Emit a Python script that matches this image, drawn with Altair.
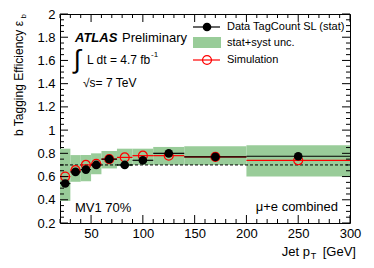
import altair as alt
import pandas as pd

# ---------------- data ----------------
bin_lo = [20, 30, 40, 50, 60, 75, 90, 110, 140, 200]
bin_hi = [30, 40, 50, 60, 75, 90, 110, 140, 200, 300]
bin_center = [25, 35, 45, 55, 67.5, 82.5, 100, 125, 170, 250]
data_eff = [0.54, 0.64, 0.66, 0.70, 0.75, 0.70, 0.74, 0.80, 0.77, 0.775]
data_stat = [0.02, 0.01, 0.01, 0.01, 0.01, 0.01, 0.01, 0.01, 0.015, 0.025]
sim_eff = [0.60, 0.655, 0.70, 0.71, 0.75, 0.765, 0.78, 0.78, 0.77, 0.74]
band_lo = [0.39, 0.555, 0.56, 0.62, 0.67, 0.69, 0.70, 0.70, 0.70, 0.60]
band_hi = [0.84, 0.785, 0.785, 0.80, 0.82, 0.84, 0.84, 0.855, 0.86, 0.87]
ref_line = [0.7]

x_labels = [50, 100, 150, 200, 250, 300]
x_minor = [v for v in range(20, 301, 10) if v % 50 != 0]
y_labels = [0.2, 0.4, 0.6, 0.8, 1.0, 1.2, 1.4, 1.6, 1.8, 2.0]
y_minor = [round(0.2 + 0.05 * i, 2) for i in range(37) if i % 4 != 0]

FONT = "Liberation Sans"
W, H = 290, 209

df = pd.DataFrame({
    "lo": bin_lo, "hi": bin_hi, "c": bin_center,
    "d": data_eff,
    "dlo": [a - b for a, b in zip(data_eff, data_stat)],
    "dhi": [a + b for a, b in zip(data_eff, data_stat)],
    "s": sim_eff, "blo": band_lo, "bhi": band_hi,
})

xs = alt.Scale(domain=[20, 300], nice=False, zero=False)
ys = alt.Scale(domain=[0.2, 2.0], nice=False, zero=False)

x_axis = alt.Axis(values=x_labels, ticks=False, tickSize=0, domain=False, grid=False,
                  labelFont=FONT, labelFontSize=13, labelColor="black",
                  labelPadding=4, labelFlush=False, title=None)
y_axis = alt.Axis(values=y_labels, format="~g", ticks=False, tickSize=0, domain=False,
                  grid=False, labelFont=FONT, labelFontSize=13, labelColor="black",
                  labelPadding=5, labelFlush=False, title=None)


def X(f):
    return alt.X(f, scale=xs, axis=x_axis)


def Y(f):
    return alt.Y(f, scale=ys, axis=y_axis)


band = alt.Chart(df).mark_rect(color="#99cc99").encode(
    x=X("lo:Q"), x2="hi:Q", y=Y("blo:Q"), y2="bhi:Q",
)

dashed = alt.Chart(pd.DataFrame({"y": ref_line})).mark_rule(
    color="black", strokeDash=[3, 2], strokeWidth=1
).encode(y=Y("y:Q"), x=alt.value(0), x2=alt.value(W))

sim_bar = alt.Chart(df).mark_rule(color="red", strokeWidth=1.2).encode(
    x=X("lo:Q"), x2="hi:Q", y=Y("s:Q"),
)
sim_pt = alt.Chart(df).mark_point(shape="circle", filled=False, color="red",
                                  size=80, strokeWidth=1.2, opacity=1).encode(
    x=X("c:Q"), y=Y("s:Q"),
)
data_bar = alt.Chart(df).mark_rule(color="black", strokeWidth=1.2).encode(
    x=X("lo:Q"), x2="hi:Q", y=Y("d:Q"),
)
data_vbar = alt.Chart(df).mark_rule(color="black", strokeWidth=1.2).encode(
    x=X("c:Q"), y=Y("dlo:Q"), y2="dhi:Q",
)
data_pt = alt.Chart(df).mark_circle(color="black", size=75, opacity=1).encode(
    x=X("c:Q"), y=Y("d:Q"),
)


# ---------------- tick marks (inward, all four sides) ----------------
def xticks(vals, length):
    d = pd.DataFrame({"v": vals})
    bot = alt.Chart(d).mark_rule(color="black", strokeWidth=1).encode(
        x=X("v:Q"), y=alt.value(H), y2=alt.value(H - length))
    top = alt.Chart(d).mark_rule(color="black", strokeWidth=1).encode(
        x=X("v:Q"), y=alt.value(0), y2=alt.value(length))
    return [bot, top]


def yticks(vals, length):
    d = pd.DataFrame({"v": vals})
    left = alt.Chart(d).mark_rule(color="black", strokeWidth=1).encode(
        y=Y("v:Q"), x=alt.value(0), x2=alt.value(length))
    right = alt.Chart(d).mark_rule(color="black", strokeWidth=1).encode(
        y=Y("v:Q"), x=alt.value(W), x2=alt.value(W - length))
    return [left, right]


ticks = xticks(x_labels, 8) + xticks(x_minor, 4) + yticks(y_labels, 8) + yticks(y_minor, 4)


# ---------------- text ----------------
def txt(t, x, y, size=13, align="left", baseline="middle", **kw):
    return alt.Chart(pd.DataFrame({"t": [t]})).mark_text(
        font=FONT, fontSize=size, align=align, baseline=baseline, color="black", **kw
    ).encode(text="t:N", x=alt.value(x), y=alt.value(y))


texts = [
    txt("ATLAS", 15, 24, 13, fontWeight="bold", fontStyle="italic"),
    txt("Preliminary", 62, 24, 13),
    txt("∫", 17, 46, 26, align="center"),
    txt("L dt = 4.7 fb", 27, 46, 12),
    txt("-1", 91, 41, 8),
    txt("√s= 7 TeV", 23, 69, 12),
    txt("MV1 70%", 15, 194, 13),
    txt("μ+e combined", 278, 193, 13, align="right"),
    # y title
    txt("b Tagging Efficiency ε", -41, 7, 12, align="right", angle=270),
    txt("b", -36, 0, 8, align="right", angle=270),
    # x title
    txt("Jet p", 250, 238, 13, align="right"),
    txt("T", 253.5, 242, 9, align="center"),
    txt("[GeV]", 296, 238, 13, align="right"),
    # legend texts
    txt("Data TagCount SL (stat)", 167, 13, 11),
    txt("stat+syst unc.", 167, 29, 11),
    txt("Simulation", 167, 46, 11),
]

one = pd.DataFrame({"a": [0]})
legend = [
    alt.Chart(one).mark_rule(color="black", strokeWidth=1.2).encode(
        x=alt.value(133), x2=alt.value(160), y=alt.value(13)),
    alt.Chart(one).mark_circle(color="black", size=75, opacity=1).encode(
        x=alt.value(147), y=alt.value(13)),
    alt.Chart(one).mark_rect(color="#99cc99").encode(
        x=alt.value(133), x2=alt.value(161), y=alt.value(23), y2=alt.value(34)),
    alt.Chart(one).mark_rule(color="red", strokeWidth=1.2).encode(
        x=alt.value(133), x2=alt.value(160), y=alt.value(46)),
    alt.Chart(one).mark_point(shape="circle", filled=False, color="red", size=80,
                              strokeWidth=1.2, opacity=1).encode(
        x=alt.value(147), y=alt.value(46)),
]

chart = alt.layer(
    band, dashed, sim_bar, sim_pt, data_bar, data_vbar, data_pt, *ticks, *texts, *legend
).properties(
    width=W, height=H,
    padding={"left": 52, "top": 6, "right": 16, "bottom": 37},
    autosize=alt.AutoSizeParams(type="none"),
).configure_view(stroke="black", strokeWidth=1)

chart.save("out.html", embed_options={"renderer": "svg", "actions": False})
